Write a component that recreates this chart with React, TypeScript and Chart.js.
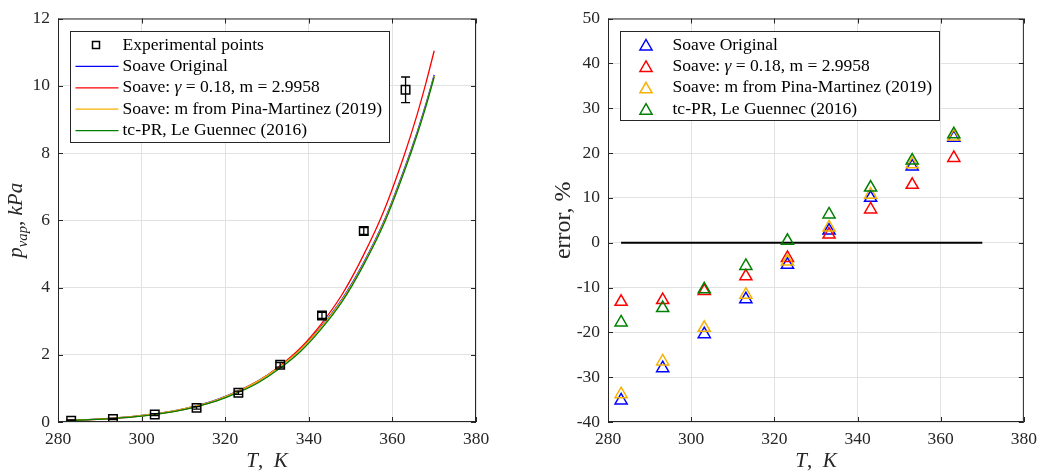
import React, { useEffect, useRef } from 'react';
import { Chart, registerables } from 'chart.js';

Chart.register(...registerables);

const FONT = '"Liberation Serif", "Times New Roman", serif';
const AXIS_COLOR = '#262626';
const GRID_COLOR = '#e2e2e2';

// ---------- data ----------
const T_EXP = [283.15, 293.15, 303.15, 313.15, 323.15, 333.15, 343.15, 353.15, 363.15];
const P_EXP = [0.04, 0.09, 0.22, 0.42, 0.87, 1.7, 3.17, 5.68, 9.88];
const P_EXP_ERR = [0.02, 0.02, 0.03, 0.04, 0.05, 0.07, 0.09, 0.1, 0.38];

const T_MODEL = [282, 283, 288, 293, 298, 303, 308, 313, 318, 323, 328, 333, 338, 343, 348, 353, 358, 363, 366, 368, 370];
const P_SOAVE = [0.048, 0.052, 0.077, 0.115, 0.166, 0.241, 0.341, 0.483, 0.666, 0.917, 1.23, 1.65, 2.165, 2.84, 3.66, 4.71, 5.975, 7.58, 8.65, 9.45, 10.32];
const P_SOAVE_GAMMA = [0.0417, 0.045, 0.068, 0.103, 0.152, 0.224, 0.321, 0.46, 0.643, 0.9, 1.222, 1.66, 2.2, 2.92, 3.8, 4.94, 6.29, 8.0, 9.18, 10.07, 11.04];
const P_SOAVE_PM = [0.0477, 0.0515, 0.0763, 0.1137, 0.1645, 0.2385, 0.338, 0.479, 0.661, 0.91, 1.222, 1.641, 2.152, 2.825, 3.64, 4.686, 5.95, 7.54, 8.61, 9.41, 10.29];
const P_TCPR = [0.0418, 0.0452, 0.0682, 0.103, 0.151, 0.221, 0.316, 0.451, 0.627, 0.871, 1.176, 1.589, 2.098, 2.77, 3.587, 4.644, 5.9, 7.5, 8.578, 9.38, 10.26];

const ERR_SOAVE = [-35.2, -28.0, -20.4, -12.6, -4.9, 2.7, 10.0, 17.0, 23.4];
const ERR_SOAVE_GAMMA = [-13.2, -12.8, -10.8, -7.5, -3.4, 1.8, 7.4, 12.9, 18.9];
const ERR_SOAVE_PM = [-33.8, -26.5, -19.0, -11.6, -4.2, 3.4, 10.7, 17.5, 23.7];
const ERR_TCPR = [-17.8, -14.6, -10.4, -5.2, 0.4, 6.3, 12.3, 18.3, 24.2];

const ZERO_LINE_T = [283.15, 370];
const ZERO_LINE_V = [0, 0];

const X_RANGE = [280, 380];
const P_RANGE = [0, 12];
const ERR_RANGE = [-40, 50];

const LABEL_EXP = 'Experimental points';
const LABEL_SOAVE = 'Soave Original';
const LABEL_GAMMA = 'Soave: γ = 0.18, m = 2.9958';
const LABEL_PM = 'Soave: m from Pina-Martinez (2019)';
const LABEL_TCPR = 'tc-PR, Le Guennec (2016)';

const C_SOAVE = '#0000ff';
const C_GAMMA = '#ff0000';
const C_PM = '#f7b100';
const C_TCPR = '#008000';

// ---------- helpers ----------
type Run = { t: string; it?: boolean; sub?: boolean };

function splitGamma(label: string): Run[] {
  const i = label.indexOf('γ');
  if (i < 0) return [{ t: label }];
  return [{ t: label.slice(0, i) }, { t: 'γ', it: true }, { t: label.slice(i + 1) }];
}

function fontOf(r: Run, size: number) {
  const s = r.sub ? size * 0.7 : size;
  return `${r.it ? 'italic ' : ''}${s}px ${FONT}`;
}

function drawRuns(ctx: CanvasRenderingContext2D, runs: Run[], x: number, y: number, size: number, align: 'left' | 'center') {
  let total = 0;
  const widths = runs.map((r) => {
    ctx.font = fontOf(r, size);
    const w = ctx.measureText(r.t).width;
    total += w;
    return w;
  });
  let cx = align === 'center' ? x - total / 2 : x;
  ctx.textAlign = 'left';
  runs.forEach((r, i) => {
    ctx.font = fontOf(r, size);
    ctx.fillText(r.t, cx, y + (r.sub ? size * 0.25 : 0));
    cx += widths[i];
  });
  return total;
}

type LegendItem = { runs: Run[]; kind: 'rect' | 'line' | 'triangle'; color: string };

type DecorCfg = {
  legend: LegendItem[];
  xTitle: Run[];
  yTitle: Run[];
  yTitleX: number;
  yTitleSize: number;
  errorBars?: boolean;
};

function makeDecor(cfg: DecorCfg) {
  return {
    id: 'decor',
    afterDatasetsDraw(chart: any) {
      const { ctx, chartArea: a, scales } = chart;
      const xs = scales.x;
      const ys = scales.y;
      ctx.save();

      // error bars
      if (cfg.errorBars) {
        ctx.strokeStyle = '#000';
        ctx.lineWidth = 1.3;
        ctx.beginPath();
        T_EXP.forEach((t, i) => {
          const px = xs.getPixelForValue(t);
          const top = ys.getPixelForValue(P_EXP[i] + P_EXP_ERR[i]);
          const bot = ys.getPixelForValue(P_EXP[i] - P_EXP_ERR[i]);
          const cap = 4.5;
          ctx.moveTo(px, top);
          ctx.lineTo(px, bot);
          ctx.moveTo(px - cap, top);
          ctx.lineTo(px + cap, top);
          ctx.moveTo(px - cap, bot);
          ctx.lineTo(px + cap, bot);
        });
        ctx.stroke();
      }

      // frame and inward ticks
      ctx.strokeStyle = AXIS_COLOR;
      ctx.lineWidth = 1;
      ctx.strokeRect(a.left + 0.5, a.top + 0.5, a.right - a.left - 1, a.bottom - a.top - 1);
      const L = 5;
      ctx.beginPath();
      xs.ticks.forEach((tk: any) => {
        const px = Math.round(xs.getPixelForValue(tk.value)) + 0.5;
        ctx.moveTo(px, a.bottom);
        ctx.lineTo(px, a.bottom - L);
        ctx.moveTo(px, a.top);
        ctx.lineTo(px, a.top + L);
      });
      ys.ticks.forEach((tk: any) => {
        const py = Math.round(ys.getPixelForValue(tk.value)) + 0.5;
        ctx.moveTo(a.left, py);
        ctx.lineTo(a.left + L, py);
        ctx.moveTo(a.right, py);
        ctx.lineTo(a.right - L, py);
      });
      ctx.stroke();

      // legend
      const size = 17.5;
      const step = 21.4;
      ctx.font = `${size}px ${FONT}`;
      let maxW = 0;
      cfg.legend.forEach((it) => {
        let w = 0;
        it.runs.forEach((r) => {
          ctx.font = fontOf(r, size);
          w += ctx.measureText(r.t).width;
        });
        maxW = Math.max(maxW, w);
      });
      const bx = Math.round(a.left + 12) + 0.5;
      const by = Math.round(a.top + 12) + 0.5;
      const bw = Math.round(52 + maxW + 7);
      const bh = Math.round(13.5 + (cfg.legend.length - 1) * step + 11.5);
      ctx.fillStyle = '#ffffff';
      ctx.fillRect(bx, by, bw, bh);
      ctx.strokeStyle = AXIS_COLOR;
      ctx.lineWidth = 1;
      ctx.strokeRect(bx, by, bw, bh);
      cfg.legend.forEach((it, i) => {
        const ry = by + 13.5 + i * step;
        if (it.kind === 'line') {
          ctx.strokeStyle = it.color;
          ctx.lineWidth = 1.3;
          ctx.beginPath();
          ctx.moveTo(bx + 5, ry);
          ctx.lineTo(bx + 48, ry);
          ctx.stroke();
        } else if (it.kind === 'rect') {
          ctx.strokeStyle = it.color;
          ctx.lineWidth = 1.5;
          ctx.strokeRect(bx + 25.5 - 3.5, ry - 3.5, 7, 7);
        } else {
          const r = 7;
          const cx = bx + 25.5;
          const cy = ry + 1.5;
          ctx.strokeStyle = it.color;
          ctx.lineWidth = 1.5;
          ctx.beginPath();
          ctx.moveTo(cx, cy - r);
          ctx.lineTo(cx + 0.866 * r, cy + 0.5 * r);
          ctx.lineTo(cx - 0.866 * r, cy + 0.5 * r);
          ctx.closePath();
          ctx.stroke();
        }
        ctx.fillStyle = '#000';
        ctx.textBaseline = 'middle';
        drawRuns(ctx, it.runs, bx + 52, ry, size, 'left');
      });

      // axis titles
      ctx.fillStyle = AXIS_COLOR;
      ctx.textBaseline = 'alphabetic';
      drawRuns(ctx, cfg.xTitle, (a.left + a.right) / 2, 466.5, 21, 'center');
      ctx.save();
      ctx.translate(cfg.yTitleX, (a.top + a.bottom) / 2);
      ctx.rotate(-Math.PI / 2);
      drawRuns(ctx, cfg.yTitle, 0, 0, cfg.yTitleSize, 'center');
      ctx.restore();

      ctx.restore();
    },
  };
}

function pts(xs: number[], ys: number[]) {
  return xs.map((x, i) => ({ x, y: ys[i] }));
}

function axes(yMin: number, yMax: number, yStep: number, yWidth: number) {
  const tickFont = { family: FONT, size: 17.5 };
  return {
    x: {
      type: 'linear' as const,
      min: X_RANGE[0],
      max: X_RANGE[1],
      afterFit: (s: any) => {
        s.height = 50;
      },
      grid: { color: GRID_COLOR, drawTicks: false, lineWidth: 1 },
      border: { display: false },
      ticks: { stepSize: 20, font: tickFont, color: AXIS_COLOR, padding: 7, maxRotation: 0 },
    },
    y: {
      type: 'linear' as const,
      min: yMin,
      max: yMax,
      afterFit: (s: any) => {
        s.width = yWidth;
      },
      grid: { color: GRID_COLOR, drawTicks: false, lineWidth: 1 },
      border: { display: false },
      ticks: { stepSize: yStep, font: tickFont, color: AXIS_COLOR, padding: 8 },
    },
  };
}

function curve(label: string, ys: number[], color: string, order: number) {
  return {
    label,
    data: pts(T_MODEL, ys),
    showLine: true,
    borderColor: color,
    backgroundColor: color,
    borderWidth: 1.3,
    pointRadius: 0,
    cubicInterpolationMode: 'monotone' as const,
    order,
  };
}

function tri(label: string, ys: number[], color: string, order: number) {
  return {
    label,
    data: pts(T_EXP, ys),
    showLine: false,
    pointStyle: 'triangle' as const,
    pointRadius: 7,
    pointBorderWidth: 1.5,
    borderColor: color,
    pointBackgroundColor: 'rgba(0,0,0,0)',
    backgroundColor: 'rgba(0,0,0,0)',
    order,
  };
}

export default function App() {
  const leftRef = useRef<HTMLCanvasElement>(null);
  const rightRef = useRef<HTMLCanvasElement>(null);

  useEffect(() => {
    const left = new Chart(leftRef.current as HTMLCanvasElement, {
      type: 'scatter',
      data: {
        datasets: [
          {
            label: LABEL_EXP,
            data: pts(T_EXP, P_EXP),
            showLine: false,
            pointStyle: 'rect',
            pointRadius: 6,
            pointBorderWidth: 1.5,
            borderColor: '#000',
            pointBackgroundColor: 'rgba(0,0,0,0)',
            backgroundColor: 'rgba(0,0,0,0)',
            order: 0,
          },
          curve(LABEL_SOAVE, P_SOAVE, C_SOAVE, 4),
          curve(LABEL_GAMMA, P_SOAVE_GAMMA, C_GAMMA, 3),
          curve(LABEL_PM, P_SOAVE_PM, C_PM, 2),
          curve(LABEL_TCPR, P_TCPR, C_TCPR, 1),
        ],
      },
      options: {
        responsive: false,
        animation: false,
        devicePixelRatio: 1,
        layout: { padding: { left: 0, top: 15, right: 44, bottom: 0 }, autoPadding: false },
        plugins: { legend: { display: false }, tooltip: { enabled: false }, title: { display: false } },
        scales: axes(P_RANGE[0], P_RANGE[1], 2, 58),
      },
      plugins: [
        makeDecor({
          legend: [
            { runs: [{ t: LABEL_EXP }], kind: 'rect', color: '#000' },
            { runs: splitGamma(LABEL_SOAVE), kind: 'line', color: C_SOAVE },
            { runs: splitGamma(LABEL_GAMMA), kind: 'line', color: C_GAMMA },
            { runs: splitGamma(LABEL_PM), kind: 'line', color: C_PM },
            { runs: splitGamma(LABEL_TCPR), kind: 'line', color: C_TCPR },
          ],
          xTitle: [{ t: 'T', it: true }, { t: ',  ' }, { t: 'K', it: true }],
          yTitle: [{ t: 'p', it: true }, { t: 'vap', it: true, sub: true }, { t: ', ' }, { t: 'kPa', it: true }],
          yTitleX: 21.5,
          yTitleSize: 21,
          errorBars: true,
        }),
      ],
    });

    const right = new Chart(rightRef.current as HTMLCanvasElement, {
      type: 'scatter',
      data: {
        datasets: [
          {
            label: 'zero',
            data: pts(ZERO_LINE_T, ZERO_LINE_V),
            showLine: true,
            borderColor: '#000',
            borderWidth: 2,
            pointRadius: 0,
            order: 5,
          },
          tri(LABEL_SOAVE, ERR_SOAVE, C_SOAVE, 4),
          tri(LABEL_GAMMA, ERR_SOAVE_GAMMA, C_GAMMA, 3),
          tri(LABEL_PM, ERR_SOAVE_PM, C_PM, 2),
          tri(LABEL_TCPR, ERR_TCPR, C_TCPR, 1),
        ],
      },
      options: {
        responsive: false,
        animation: false,
        devicePixelRatio: 1,
        layout: { padding: { left: 0, top: 15, right: 19, bottom: 0 }, autoPadding: false },
        plugins: { legend: { display: false }, tooltip: { enabled: false }, title: { display: false } },
        scales: axes(ERR_RANGE[0], ERR_RANGE[1], 10, 88),
      },
      plugins: [
        makeDecor({
          legend: [
            { runs: splitGamma(LABEL_SOAVE), kind: 'triangle', color: C_SOAVE },
            { runs: splitGamma(LABEL_GAMMA), kind: 'triangle', color: C_GAMMA },
            { runs: splitGamma(LABEL_PM), kind: 'triangle', color: C_PM },
            { runs: splitGamma(LABEL_TCPR), kind: 'triangle', color: C_TCPR },
          ],
          xTitle: [{ t: 'T', it: true }, { t: ',  ' }, { t: 'K', it: true }],
          yTitle: [{ t: 'error, %' }],
          yTitleX: 50,
          yTitleSize: 24,
        }),
      ],
    });

    return () => {
      left.destroy();
      right.destroy();
    };
  }, []);

  return (
    <div style={{ position: 'absolute', left: 0, top: 0, width: 1044, height: 472, background: '#fff' }}>
      <canvas ref={leftRef} width={520} height={472} style={{ position: 'absolute', left: 0, top: 0, width: 520, height: 472 }} />
      <canvas ref={rightRef} width={524} height={472} style={{ position: 'absolute', left: 520, top: 0, width: 524, height: 472 }} />
    </div>
  );
}
